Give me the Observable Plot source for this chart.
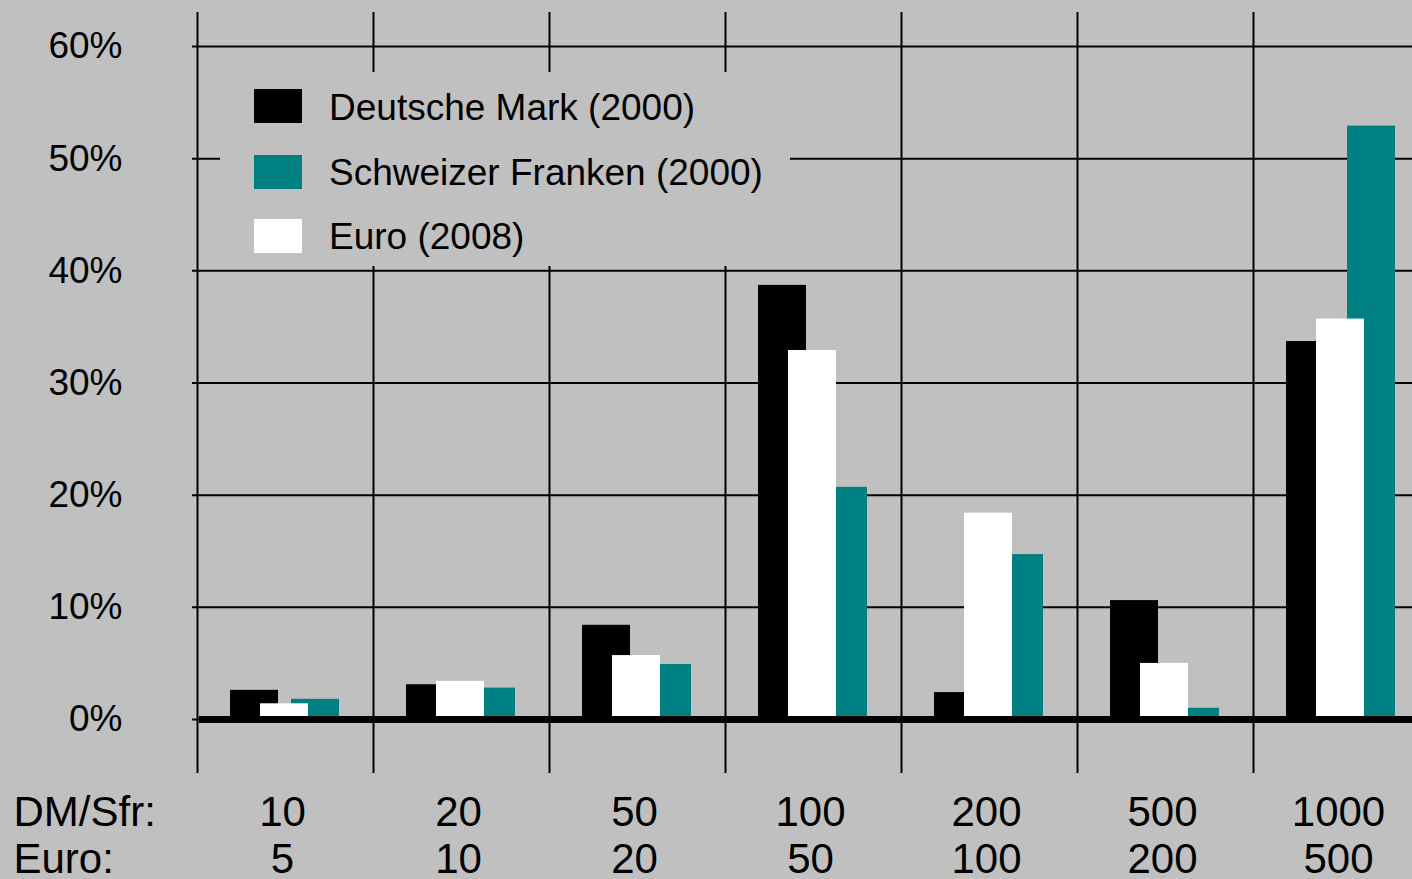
<!DOCTYPE html>
<html>
<head>
<meta charset="utf-8">
<script src="https://cdn.jsdelivr.net/npm/d3@7"></script>
<script src="https://cdn.jsdelivr.net/npm/@observablehq/plot@0.6"></script>
<style>
  html, body { margin: 0; padding: 0; background: #c0c0c0; }
  #wrap { position: relative; width: 1412px; height: 879px; overflow: hidden; }
  #legend { position: absolute; left: 220px; top: 72px; }
</style>
</head>
<body>
<div id="wrap"></div>
<script>
// ---- data ----
const categories = ["10/5", "20/10", "50/20", "100/50", "200/100", "500/200", "1000/500"];
const dmLabels = ["10", "20", "50", "100", "200", "500", "1000"];
const euroLabels = ["5", "10", "20", "50", "100", "200", "500"];
const dm = [2.6, 3.1, 8.4, 38.7, 2.4, 10.6, 33.7];     // Deutsche Mark (2000), %
const sfr = [1.8, 2.8, 4.9, 20.7, 14.7, 1.0, 52.9];    // Schweizer Franken (2000), %
const euro = [1.4, 3.4, 5.7, 32.9, 18.4, 5.0, 35.7];   // Euro (2008), %
const yTicks = [0, 10, 20, 30, 40, 50, 60];
const seriesNames = ["Deutsche Mark (2000)", "Schweizer Franken (2000)", "Euro (2008)"];
const seriesColors = ["#000000", "#008080", "#ffffff"];

const rows = categories.map((c, i) => ({cat: c, dm: dm[i], sfr: sfr[i], euro: euro[i]}));

const font = "'Liberation Sans', Arial, Helvetica, sans-serif";

const chart = Plot.plot({
  width: 1412,
  height: 879,
  marginLeft: 197,
  marginRight: 0,
  marginTop: 46,
  marginBottom: 160,
  style: {background: "#c0c0c0", fontFamily: font, color: "black", overflow: "visible"},
  x: {type: "band", domain: categories, range: [197, 1429], padding: 0, round: false},
  y: {domain: [0, 60], axis: null},
  marks: [
    Plot.ruleY(yTicks, {stroke: "black", strokeWidth: 2, insetLeft: -5}),
    Plot.ruleX(categories, {x: d => d, dx: -88, stroke: "black", strokeWidth: 2, insetTop: -34, insetBottom: -54}),
    Plot.barY(rows, {x: "cat", y: "dm", fill: seriesColors[0], insetLeft: 33, insetRight: 95}),
    Plot.barY(rows, {x: "cat", y: "sfr", fill: seriesColors[1], insetLeft: 94, insetRight: 34}),
    Plot.barY(rows, {x: "cat", y: "euro", fill: seriesColors[2], insetLeft: 63, insetRight: 65}),
    Plot.ruleY([0], {stroke: "black", strokeWidth: 7, insetLeft: 2}),
    Plot.axisY(yTicks, {
      tickSize: 0, tickPadding: 75, fontSize: 37, label: null,
      tickFormat: d => d + "%"
    }),
    Plot.axisX({
      tickSize: 0, tickPadding: 72, fontSize: 42, label: null, lineHeight: 1.14, dx: -3,
      tickFormat: d => dmLabels[categories.indexOf(d)] + "\n" + euroLabels[categories.indexOf(d)]
    }),
    Plot.text(["DM/Sfr:\nEuro:"], {
      frameAnchor: "bottom-left", textAnchor: "start", lineAnchor: "top",
      dx: -184, dy: 72, fontSize: 42, lineHeight: 1.14, fill: "black"
    })
  ]
});

const wrap = document.getElementById("wrap");
wrap.appendChild(chart);

// ---- legend overlay (covers the grid like in the original) ----
const lw = 570, lh = 194;
const leg = d3.create("svg")
  .attr("id", "legend")
  .attr("width", lw).attr("height", lh)
  .style("font-family", font);
leg.append("rect").attr("width", lw).attr("height", lh).attr("fill", "#c0c0c0");
const swX = 34, rowTop = [17, 83, 147], rowBase = [48, 113, 177];
seriesNames.forEach((name, i) => {
  leg.append("rect")
    .attr("x", swX).attr("y", rowTop[i])
    .attr("width", 48).attr("height", 34)
    .attr("fill", seriesColors[i]);
  leg.append("text")
    .attr("x", 109).attr("y", rowBase[i])
    .attr("font-size", 37).attr("fill", "black")
    .text(name);
});
wrap.appendChild(leg.node());
</script>
</body>
</html>
